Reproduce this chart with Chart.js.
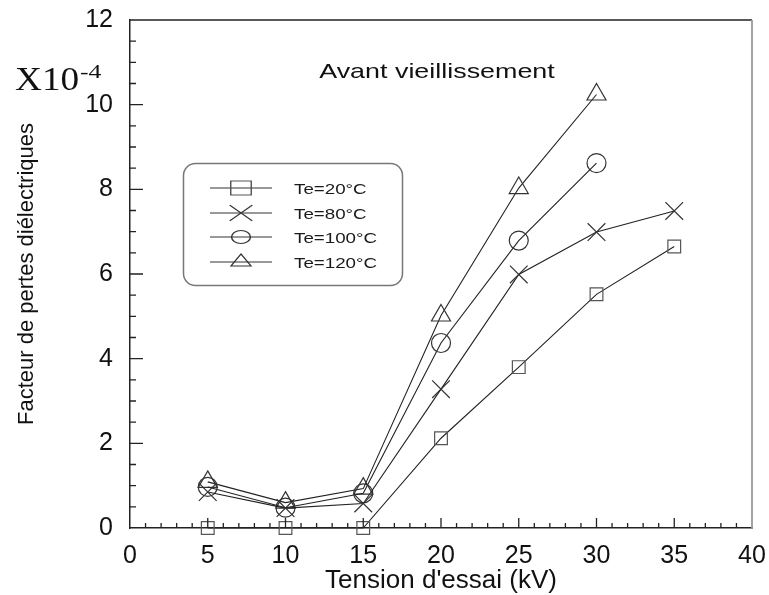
<!DOCTYPE html>
<html><head><meta charset="utf-8">
<script src="https://cdn.jsdelivr.net/npm/chart.js@4/dist/chart.umd.min.js"></script>
<style>html,body{margin:0;padding:0;background:#fff}#wrap{width:769px;height:595px}</style>
</head><body><div id="wrap"><canvas id="c" width="769" height="595"></canvas></div>
<script>
const voltages = [5, 10, 15, 20, 25, 30, 35];
const te20  = [0, 0, 0, 2.12, 3.8, 5.52, 6.65];
const te80  = [0.85, 0.47, 0.58, 3.28, 5.99, 6.99, 7.49];
const te100 = [0.97, 0.48, 0.82, 4.37, 6.79, 8.62];
const te120 = [1.09, 0.60, 0.93, 5.02, 8.03, 10.24];
const seriesLabels = ['Te=20°C', 'Te=80°C', 'Te=100°C', 'Te=120°C'];
const xTicks = [0, 5, 10, 15, 20, 25, 30, 35, 40];
const yTicks = [0, 2, 4, 6, 8, 10, 12];
const chartTitle = 'Avant vieillissement';
const xTitle = "Tension d'essai (kV)";
const yTitle = 'Facteur de pertes diélectriques';

const styles = [
  {style: 'rect', r: 9, lr: 10},
  {style: 'crossRot', r: 12.5, lr: 11},
  {style: 'circle', r: 9.5, lr: 6.5},
  {style: 'triangle', r: 11, lr: 8}
];
const seriesValues = [te20, te80, te100, te120];

const datasets = seriesValues.map((ys, k) => ({
  label: seriesLabels[k],
  data: ys.map((y, i) => ({x: voltages[i], y})),
  borderColor: '#222',
  borderWidth: 1.1,
  pointStyle: styles[k].style,
  pointRadius: styles[k].r,
  pointBorderColor: k === 0 ? '#555' : '#333',
  pointBackgroundColor: 'rgba(0,0,0,0)',
  pointBorderWidth: 1.2,
  clip: false,
  tension: 0
}));

function stretchText(ctx, text, font, x, y, scale, align) {
  ctx.save();
  ctx.font = font;
  const w = ctx.measureText(text).width * scale;
  const x0 = align === 'center' ? x - w / 2 : (align === 'right' ? x - w : x);
  ctx.translate(x0, y);
  ctx.scale(scale, 1);
  ctx.textAlign = 'left';
  ctx.textBaseline = 'alphabetic';
  ctx.fillText(text, 0, 0);
  ctx.restore();
}

function noPad(s) {
  s.paddingTop = 0; s.paddingBottom = 0; s.paddingLeft = 0; s.paddingRight = 0;
}

const deco = {
  id: 'deco',
  afterDatasetsDraw(chart) {
    const {ctx, chartArea: a, scales: {x, y}} = chart;
    ctx.save();
    ctx.strokeStyle = '#222';
    ctx.lineWidth = 1.3;
    ctx.beginPath();
    for (let v = 1; v < 40; v++) {
      const px = x.getPixelForValue(v);
      const len = v % 5 === 0 ? 10 : 5;
      ctx.moveTo(px, a.bottom); ctx.lineTo(px, a.bottom - len);
    }
    for (let v = 0.5; v < 12; v += 0.5) {
      const py = y.getPixelForValue(v);
      const len = v % 2 === 0 ? 13 : 6;
      ctx.moveTo(a.left, py); ctx.lineTo(a.left + len, py);
    }
    ctx.stroke();
    ctx.beginPath();
    ctx.moveTo(a.left, a.top); ctx.lineTo(a.right, a.top);
    ctx.stroke();
    ctx.strokeStyle = '#999';
    ctx.lineWidth = 1.8;
    ctx.beginPath();
    ctx.moveTo(a.right, a.top); ctx.lineTo(a.right, a.bottom);
    ctx.stroke();
    ctx.restore();
  },
  afterDraw(chart) {
    const ctx = chart.ctx;
    ctx.save();
    ctx.fillStyle = '#111';
    stretchText(ctx, chartTitle, '21px "Liberation Sans", Arial, sans-serif', 437, 78, 1.28, 'center');
    stretchText(ctx, 'X10', '33px "Liberation Serif", "Times New Roman", serif', 15, 90, 1.13, 'left');
    stretchText(ctx, '-4', '19px "Liberation Serif", "Times New Roman", serif', 80, 78, 1.35, 'left');
    ctx.strokeStyle = '#777';
    ctx.lineWidth = 1.5;
    ctx.beginPath();
    ctx.roundRect(183.5, 163.5, 219, 122, 12);
    ctx.stroke();
    const rows = [188, 213, 237, 262];
    chart.data.datasets.forEach((ds, k) => {
      const ry = rows[k];
      ctx.strokeStyle = '#333';
      ctx.lineWidth = 1;
      ctx.beginPath();
      ctx.moveTo(210, ry); ctx.lineTo(272, ry);
      ctx.stroke();
      ctx.save();
      ctx.translate(241, ry);
      ctx.scale(1.45, 1);
      ctx.strokeStyle = ds.pointBorderColor;
      ctx.fillStyle = 'rgba(0,0,0,0)';
      Chart.helpers.drawPoint(ctx, {pointStyle: ds.pointStyle, radius: styles[k].lr, rotation: 0, borderWidth: 1}, 0, 0);
      ctx.restore();
      ctx.fillStyle = '#1a1a1a';
      stretchText(ctx, ds.label, '15px "Liberation Sans", Arial, sans-serif', 294, ry + 5.5, 1.25, 'left');
    });
    ctx.restore();
  }
};

new Chart(document.getElementById('c'), {
  type: 'line',
  data: {datasets},
  options: {
    responsive: false,
    animation: false,
    layout: {padding: {top: 20, right: 17, left: 0, bottom: 0}},
    plugins: {legend: {display: false}, tooltip: {enabled: false}},
    scales: {
      x: {
        type: 'linear', min: 0, max: 40,
        afterBuildTicks: s => { s.ticks = xTicks.map(v => ({value: v})); },
        afterFit: s => { s.height = 67; noPad(s); },
        grid: {display: false, drawTicks: false},
        border: {display: true, color: '#222', width: 1.5},
        ticks: {color: '#111', font: {family: '"Liberation Sans", Arial, sans-serif', size: 25}, padding: 13, maxRotation: 0},
        title: {display: true, text: xTitle, color: '#111', font: {family: '"Liberation Sans", Arial, sans-serif', size: 26}, padding: {top: 0, bottom: -1}}
      },
      y: {
        type: 'linear', min: 0, max: 12,
        afterBuildTicks: s => { s.ticks = yTicks.map(v => ({value: v})); },
        afterFit: s => { s.width = 130; noPad(s); },
        grid: {display: false, drawTicks: false},
        border: {display: true, color: '#222', width: 1.5},
        ticks: {color: '#111', font: {family: '"Liberation Sans", Arial, sans-serif', size: 25}, padding: 17},
        title: {display: true, text: yTitle, color: '#111', font: {family: '"Liberation Sans", Arial, sans-serif', size: 22}, padding: {top: 14, bottom: 0}}
      }
    }
  },
  plugins: [deco]
});
</script>
</body></html>
